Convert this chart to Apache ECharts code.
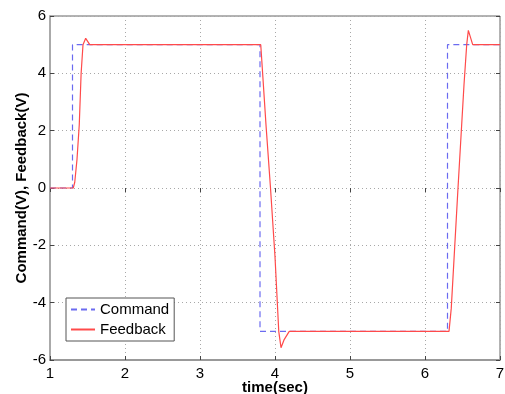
<!DOCTYPE html>
<html><head><meta charset="utf-8">
<script src="https://cdn.jsdelivr.net/npm/echarts@6/dist/echarts.min.js"></script>
<style>html,body{margin:0;padding:0;background:#fff}#c{width:505px;height:394px}</style>
</head><body><div id="c"></div>
<script>
const xTicks = [1, 2, 3, 4, 5, 6, 7];
const yTicks = [-6, -4, -2, 0, 2, 4, 6];
const commandT = [1, 1.3, 1.3, 3.8, 3.8, 6.3, 6.3, 7];
const commandV = [0, 0, 5, 5, -5, -5, 5, 5];
const feedbackT = [1, 1.31, 1.33, 1.36, 1.39, 1.415, 1.44, 1.476, 1.53, 3.81, 3.84, 3.88, 3.94, 4.0, 4.05, 4.08, 4.12, 4.19, 6.32, 6.35, 6.44, 6.52, 6.556, 6.578, 6.636, 7];
const feedbackV = [0, 0, 0.2, 1, 2.2, 4, 5, 5.22, 5, 5, 3.8, 2.2, 0, -2.4, -5, -5.57, -5.3, -5, -5, -4.2, 0, 3.6, 5, 5.5, 5, 5];

const font = 'Liberation Sans, Arial, sans-serif';
const pair = (t, v) => t.map((x, i) => [x, v[i]]);
const chart = echarts.init(document.getElementById('c'), null, {renderer: 'canvas'});
const gridColor = '#a8a8a8';
chart.setOption({
  animation: false,
  backgroundColor: '#fff',
  grid: {left: 50, right: 5, top: 16, bottom: 34, show: true, borderColor: '#666', borderWidth: 1, containLabel: false, outerBoundsMode: 'none'},
  legend: {
    left: 66, top: 298, orient: 'vertical', itemWidth: 24, itemHeight: 10, itemGap: 5,
    backgroundColor: '#fff', borderColor: '#555', borderWidth: 1, padding: [4, 5, 4, 4],
    textStyle: {fontFamily: font, fontSize: 15, color: '#000'},
    itemStyle: {opacity: 0},
    data: ['Command', 'Feedback']
  },
  xAxis: [{
    type: 'value', min: xTicks[0], max: xTicks[xTicks.length - 1], interval: 1,
    name: 'time(sec)', nameLocation: 'middle', nameGap: 20, nameMoveOverlap: false,
    nameTextStyle: {fontFamily: font, fontSize: 15, fontWeight: 'bold', color: '#000'},
    axisLine: {show: true, onZero: false, lineStyle: {color: '#999', width: 2}},
    axisTick: {show: true, inside: true, length: 4, lineStyle: {color: '#444'}},
    axisLabel: {fontFamily: font, fontSize: 15, color: '#000', margin: 6},
    splitLine: {show: true, lineStyle: {color: gridColor, type: [1, 3], width: 1}}
  }, {
    type: 'value', position: 'top', min: 1, max: 7, interval: 1,
    axisLine: {show: false}, axisLabel: {show: false}, splitLine: {show: false},
    axisTick: {show: true, inside: true, length: 4, lineStyle: {color: '#444'}}
  }],
  yAxis: [{
    type: 'value', min: yTicks[0], max: yTicks[yTicks.length - 1], interval: 2,
    name: 'Command(V), Feedback(V)', nameLocation: 'middle', nameGap: 21, nameMoveOverlap: false,
    nameTextStyle: {fontFamily: font, fontSize: 15, fontWeight: 'bold', color: '#000'},
    axisLine: {show: true, onZero: false, lineStyle: {color: '#aaa', width: 2}},
    axisTick: {show: true, inside: true, length: 4, lineStyle: {color: '#444'}},
    axisLabel: {fontFamily: font, fontSize: 15, color: '#000', margin: 4},
    splitLine: {show: true, lineStyle: {color: gridColor, type: [1, 3], width: 1}}
  }, {
    type: 'value', position: 'right', min: -6, max: 6, interval: 2,
    axisLine: {show: false}, axisLabel: {show: false}, splitLine: {show: false},
    axisTick: {show: true, inside: true, length: 4, lineStyle: {color: '#444'}}
  }],
  series: [{
    name: 'Command', type: 'line', symbol: 'none', data: pair(commandT, commandV),
    lineStyle: {color: '#6b6bf0', width: 1.2, type: [6, 4]}, itemStyle: {color: '#6b6bf0'}, z: 2
  }, {
    name: 'Feedback', type: 'line', symbol: 'none', data: pair(feedbackT, feedbackV),
    lineStyle: {color: '#ff4a4a', width: 1.2}, itemStyle: {color: '#ff4a4a'}, z: 3
  }]
});
</script></body></html>
